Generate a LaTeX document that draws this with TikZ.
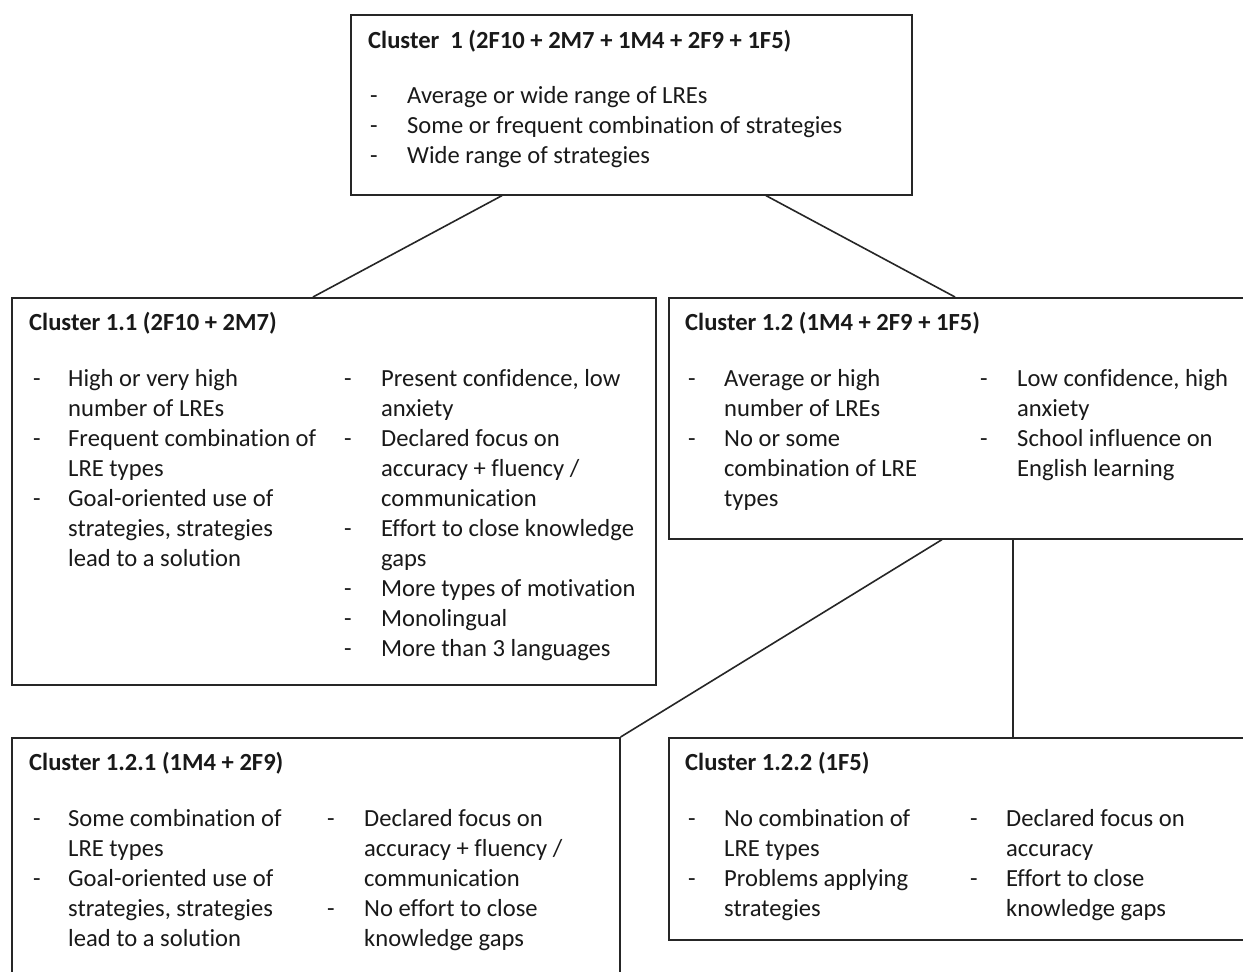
\documentclass[tikz,border=0pt]{standalone}
\usepackage{fontspec}
\setmainfont{Carlito}[Ligatures=NoCommon]
\usetikzlibrary{calc}
\tikzset{
  box/.style={draw=black!85, line width=1.6pt, anchor=north west, inner sep=0pt, fill=white},
  link/.style={draw=black!85, line width=1.6pt},
  txt/.style={anchor=base west, inner sep=0pt, font=\fontsize{24.6}{30}\selectfont, text=black!90},
  ttl/.style={txt, font=\fontsize{24.6}{30}\selectfont\bfseries}
}
% one text node per line, 30pt apart
\newcommand\textlines[4]{%
  \foreach \s [count=\k from 0] in {#4}{\node[txt] (#1-\k) at (#2,{#3+30*\k}) {\s};}}
% dash markers at the given baselines
\newcommand\dashmarks[3]{%
  \foreach \yy [count=\k] in {#3}{\node[txt] (#1-d\k) at (#2,\yy) {-};}}
\begin{document}
\begin{tikzpicture}[x=1pt,y=-1pt]
\useasboundingbox (0,0) rectangle (1243,972);
\fill[white] (0,0) rectangle (1243,972);

% boxes
\node[box, minimum width=561pt, minimum height=180pt] (b1) at (350,14) {};
\node[box, minimum width=644pt, minimum height=387pt] (b11) at (11,297) {};
\node[box, minimum width=600pt, minimum height=241pt] (b12) at (668,297) {};
\node[box, minimum width=608pt, minimum height=260pt] (b121) at (11,737) {};
\node[box, minimum width=600pt, minimum height=202pt] (b122) at (668,737) {};

% connectors
\draw[link] ([xshift=152pt]b1.south west) -- ([xshift=302pt]b11.north west);
\draw[link] ([xshift=416pt]b1.south west) -- ([xshift=287pt]b12.north west);
\draw[link] ([xshift=274pt]b12.south west) -- (b121.north east);
\draw[link] ([xshift=345pt]b12.south west) -- ([xshift=345pt]b122.north west);

% Cluster 1
\node[ttl] (t1) at (368,48) {Cluster\ \ 1 (2F10 + 2M7 + 1M4 + 2F9 + 1F5)};
\dashmarks{c1}{370}{103,133,163}
\textlines{c1}{407}{103}{Average or wide range of LREs,Some or frequent combination of strategies,Wide range of strategies}

% Cluster 1.1
\node[ttl] (t11) at (29,330) {Cluster 1.1 (2F10 + 2M7)};
\dashmarks{c11a}{33}{386,446,506}
\textlines{c11a}{68}{386}{High or very high,number of LREs,Frequent combination of,LRE types,Goal-oriented use of,{strategies, strategies},lead to a solution}
\dashmarks{c11b}{344}{386,446,536,596,626,656}
\textlines{c11b}{381}{386}{{Present confidence, low},anxiety,Declared focus on,accuracy + fluency /,communication,Effort to close knowledge,gaps,More types of motivation,Monolingual,More than 3 languages}

% Cluster 1.2
\node[ttl] (t12) at (685,330) {Cluster 1.2 (1M4 + 2F9 + 1F5)};
\dashmarks{c12a}{688}{386,446}
\textlines{c12a}{724}{386}{Average or high,number of LREs,No or some,combination of LRE,types}
\dashmarks{c12b}{980}{386,446}
\textlines{c12b}{1017}{386}{{Low confidence, high},anxiety,School influence on,English learning}

% Cluster 1.2.1
\node[ttl] (t121) at (29,770) {Cluster 1.2.1 (1M4 + 2F9)};
\dashmarks{c121a}{33}{826,886}
\textlines{c121a}{68}{826}{Some combination of,LRE types,Goal-oriented use of,{strategies, strategies},lead to a solution}
\dashmarks{c121b}{327}{826,916}
\textlines{c121b}{364}{826}{Declared focus on,accuracy + fluency /,communication,No effort to close,knowledge gaps}

% Cluster 1.2.2
\node[ttl] (t122) at (685,770) {Cluster 1.2.2 (1F5)};
\dashmarks{c122a}{688}{826,886}
\textlines{c122a}{724}{826}{No combination of,LRE types,Problems applying,strategies}
\dashmarks{c122b}{970}{826,886}
\textlines{c122b}{1006}{826}{Declared focus on,accuracy,Effort to close,knowledge gaps}
\end{tikzpicture}
\end{document}
